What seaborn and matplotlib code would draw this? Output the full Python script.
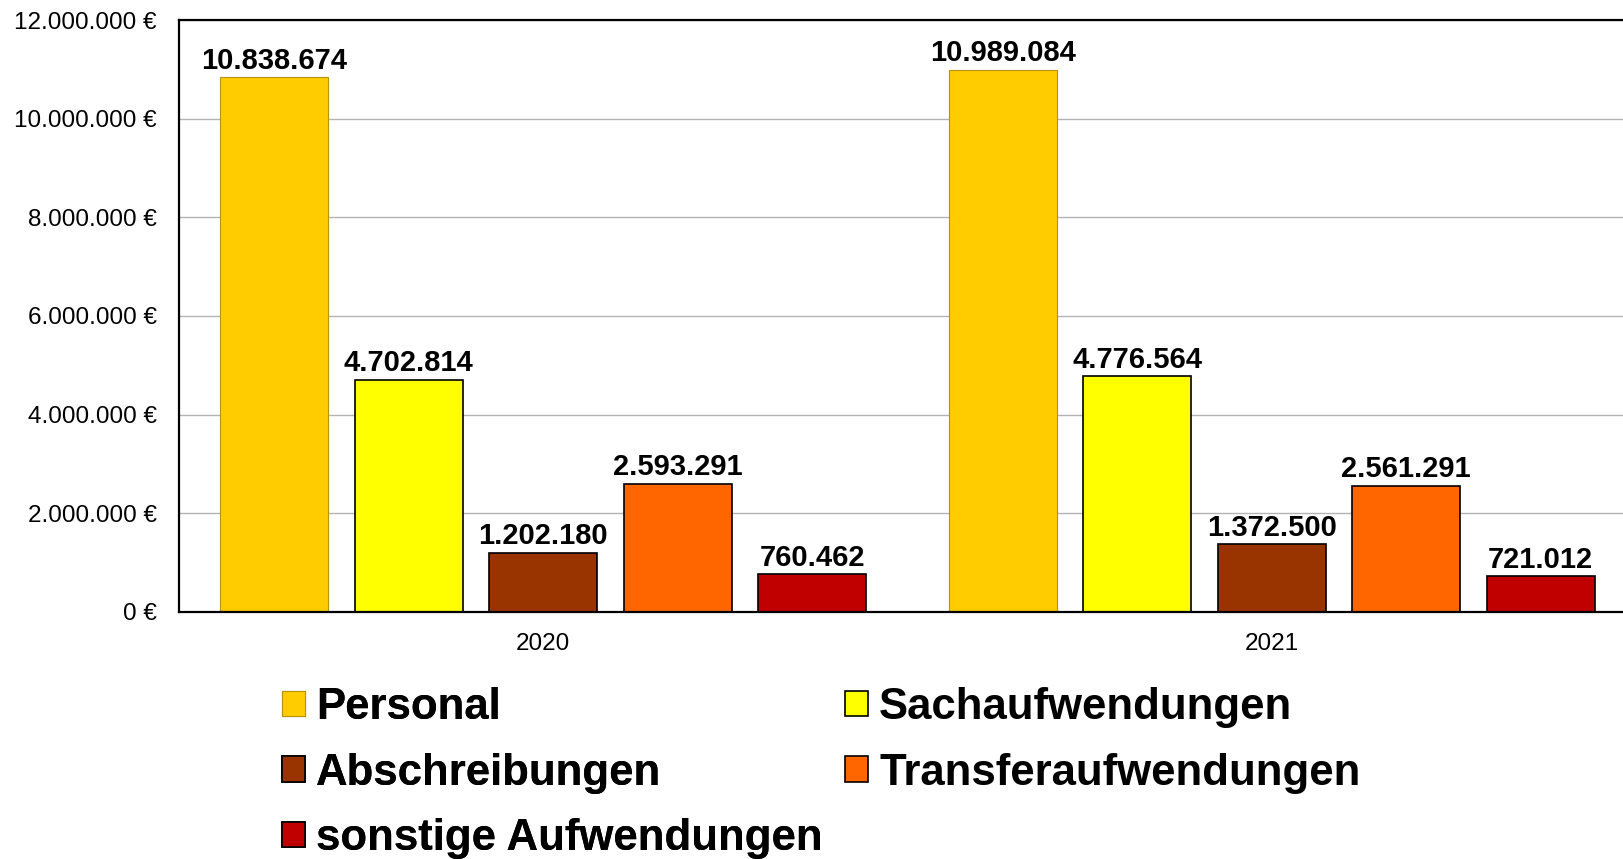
import numpy as np
import pandas as pd
import matplotlib
matplotlib.use("Agg")
import matplotlib.pyplot as plt
import matplotlib.ticker as mticker
import seaborn as sns

jahre = ["2020", "2021"]
arten = ["Personal", "Sachaufwendungen", "Abschreibungen",
         "Transferaufwendungen", "sonstige Aufwendungen"]
werte_2020 = [10838674, 4702814, 1202180, 2593291, 760462]
werte_2021 = [10989084, 4776564, 1372500, 2561291, 721012]
farben = ["#FFCC00", "#FFFF00", "#993300", "#FF6600", "#C00000"]
y_ticks = [0, 2000000, 4000000, 6000000, 8000000, 10000000, 12000000]


def de_zahl(v):
    return f"{v:,.0f}".replace(",", ".")


df = pd.DataFrame({
    "Jahr": np.repeat(jahre, len(arten)),
    "Art": arten * len(jahre),
    "Wert": werte_2020 + werte_2021,
})

sns.set_style("white")
plt.rcParams["font.family"] = ["Liberation Sans", "DejaVu Sans"]
plt.rcParams["text.color"] = "black"
plt.rcParams["xtick.color"] = "black"
plt.rcParams["ytick.color"] = "black"

fig = plt.figure(figsize=(16.23, 8.59), dpi=100)
ax = fig.add_axes([179 / 1623, 247 / 859, 1457 / 1623, 592 / 859])

sns.barplot(data=df, x="Jahr", y="Wert", hue="Art", hue_order=arten,
            palette=farben, saturation=1, width=0.923, gap=0.2,
            edgecolor="black", linewidth=1.2, legend=False, ax=ax)

# Personal bars have a thin golden outline instead of black
for p in ax.containers[0]:
    p.set_edgecolor("#B8920A")
    p.set_linewidth(0.8)

for cont in ax.containers:
    ax.bar_label(cont, labels=[de_zahl(v) for v in cont.datavalues],
                 padding=2, fontsize=21, fontweight="bold", color="black")

ax.set_ylim(0, 12000000)
ax.set_yticks(y_ticks)
ax.yaxis.set_major_formatter(mticker.FuncFormatter(lambda v, p: de_zahl(v) + " €"))
ax.set_xlabel("")
ax.set_ylabel("")
ax.tick_params(axis="y", length=0, pad=16, labelsize=17.5)
ax.tick_params(axis="x", length=0, pad=15, labelsize=17.5)
ax.yaxis.grid(True, color="#b3b3b3", linewidth=1)
ax.set_axisbelow(True)
for side in ["top", "left", "bottom"]:
    ax.spines[side].set_color("black")
    ax.spines[side].set_linewidth(1.6)
ax.spines["right"].set_visible(False)

handles = [c.patches[0] for c in ax.containers]
legend_font = dict(weight="bold", size=31.5)
common = dict(loc="upper left", frameon=False, prop=legend_font,
              handlelength=0.53, handleheight=0.53, handletextpad=0.25,
              labelspacing=0.56, borderaxespad=0, borderpad=0)
leg1 = fig.legend([handles[0], handles[2], handles[4]],
                  [arten[0], arten[2], arten[4]],
                  bbox_to_anchor=(282 / 1623, 1 - 687 / 859), **common)
fig.add_artist(leg1)
fig.legend([handles[1], handles[3]], [arten[1], arten[3]],
           bbox_to_anchor=(845 / 1623, 1 - 687 / 859), **common)

fig.savefig("out.png", dpi=100)
